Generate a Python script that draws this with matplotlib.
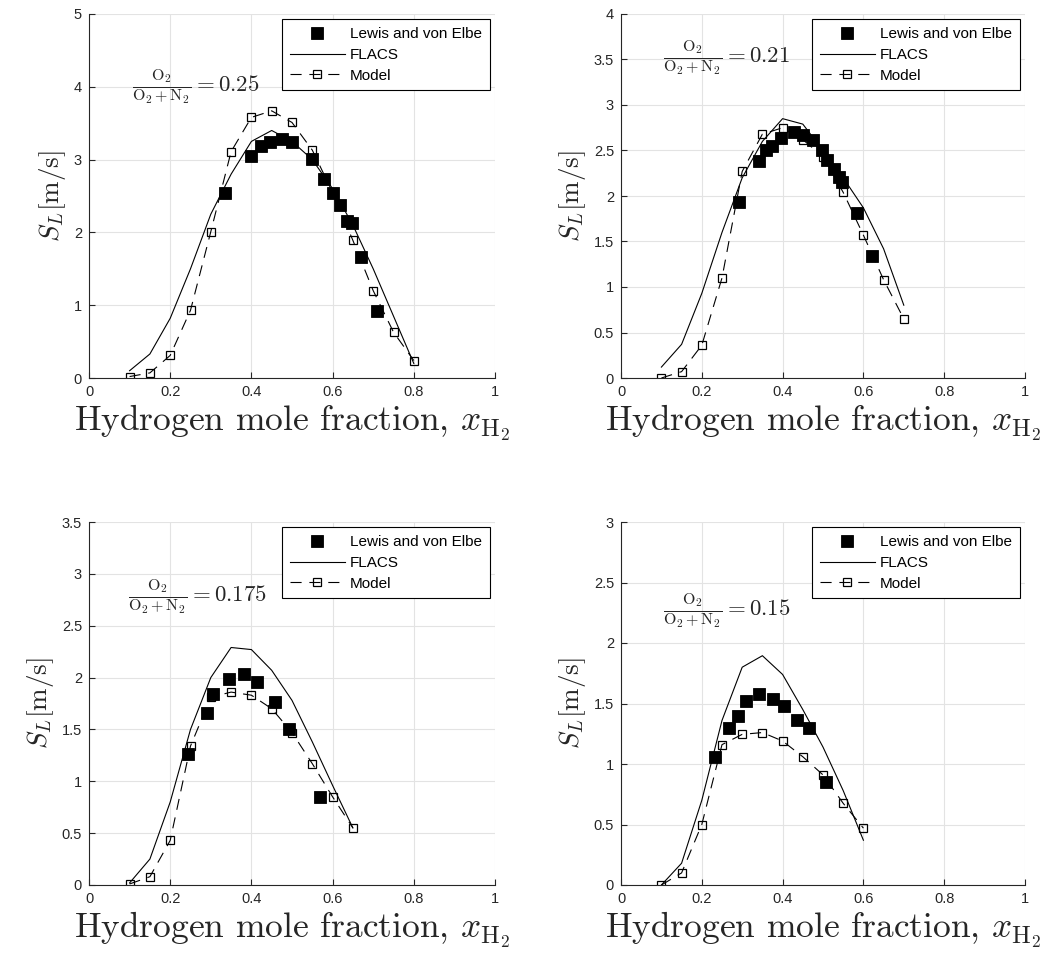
import matplotlib
matplotlib.use("Agg")
import matplotlib.pyplot as plt
import numpy as np

plt.rcParams['font.family'] = ['Liberation Sans', 'DejaVu Sans']
plt.rcParams['mathtext.fontset'] = 'cm'

# %%
# Data, one block per O2/(O2+N2) ratio

ratio_labels = ["0.25", "0.21", "0.175", "0.15"]
ylims = [5, 4, 3.5, 3]
ytick_steps = [1, 0.5, 0.5, 0.5]
label_pos = [(0.105, 4.0), (0.104, 3.52), (0.096, 2.78), (0.104, 2.27)]

# Lewis and von Elbe (experiment)
lewis_x_025 = [0.335, 0.398, 0.424, 0.446, 0.476, 0.499, 0.55, 0.58, 0.60, 0.618, 0.635, 0.647, 0.67, 0.709]
lewis_y_025 = [2.54, 3.05, 3.18, 3.24, 3.28, 3.24, 3.01, 2.74, 2.54, 2.38, 2.16, 2.13, 1.66, 0.92]
lewis_x_021 = [0.293, 0.342, 0.358, 0.373, 0.395, 0.427, 0.45, 0.476, 0.497, 0.509, 0.527, 0.54, 0.548, 0.585, 0.622]
lewis_y_021 = [1.93, 2.38, 2.51, 2.55, 2.64, 2.70, 2.67, 2.62, 2.51, 2.40, 2.30, 2.21, 2.15, 1.81, 1.34]
lewis_x_0175 = [0.243, 0.29, 0.306, 0.346, 0.382, 0.415, 0.458, 0.493, 0.569]
lewis_y_0175 = [1.26, 1.66, 1.84, 1.99, 2.03, 1.96, 1.76, 1.50, 0.85]
lewis_x_015 = [0.233, 0.268, 0.289, 0.309, 0.342, 0.377, 0.404, 0.435, 0.465, 0.507]
lewis_y_015 = [1.06, 1.30, 1.40, 1.52, 1.575, 1.54, 1.48, 1.36, 1.30, 0.855]

# FLACS
flacs_x_025 = [0.1, 0.15, 0.2, 0.25, 0.3, 0.35, 0.4, 0.45, 0.5, 0.55, 0.6, 0.65, 0.7, 0.75, 0.8]
flacs_y_025 = [0.1, 0.33, 0.82, 1.5, 2.25, 2.8, 3.25, 3.4, 3.25, 3.0, 2.6, 2.1, 1.5, 0.85, 0.2]
flacs_x_021 = [0.1, 0.15, 0.2, 0.25, 0.3, 0.35, 0.4, 0.45, 0.5, 0.55, 0.6, 0.65, 0.7]
flacs_y_021 = [0.12, 0.37, 0.93, 1.6, 2.2, 2.6, 2.85, 2.79, 2.5, 2.2, 1.87, 1.42, 0.8]
flacs_x_0175 = [0.1, 0.15, 0.2, 0.25, 0.3, 0.35, 0.4, 0.45, 0.5, 0.55, 0.6, 0.65]
flacs_y_0175 = [0.02, 0.25, 0.8, 1.5, 2.0, 2.29, 2.27, 2.07, 1.78, 1.38, 0.96, 0.55]
flacs_x_015 = [0.1, 0.15, 0.2, 0.25, 0.3, 0.35, 0.4, 0.45, 0.5, 0.55, 0.6]
flacs_y_015 = [0.0, 0.18, 0.7, 1.36, 1.80, 1.895, 1.74, 1.45, 1.14, 0.78, 0.37]

# Model
model_x_025 = [0.1, 0.15, 0.2, 0.25, 0.3, 0.35, 0.4, 0.45, 0.5, 0.55, 0.6, 0.65, 0.7, 0.75, 0.8]
model_y_025 = [0.02, 0.07, 0.31, 0.93, 2.01, 3.11, 3.58, 3.67, 3.51, 3.13, 2.55, 1.89, 1.2, 0.63, 0.24]
model_x_021 = [0.1, 0.15, 0.2, 0.25, 0.3, 0.35, 0.4, 0.45, 0.5, 0.55, 0.6, 0.65, 0.7]
model_y_021 = [0.0, 0.07, 0.36, 1.1, 2.27, 2.68, 2.75, 2.62, 2.43, 2.04, 1.57, 1.08, 0.65]
model_x_0175 = [0.1, 0.15, 0.2, 0.25, 0.3, 0.35, 0.4, 0.45, 0.5, 0.55, 0.6, 0.65]
model_y_0175 = [0.01, 0.08, 0.43, 1.34, 1.81, 1.86, 1.83, 1.70, 1.47, 1.17, 0.85, 0.55]
model_x_015 = [0.1, 0.15, 0.2, 0.25, 0.3, 0.35, 0.4, 0.45, 0.5, 0.55, 0.6]
model_y_015 = [0.0, 0.1, 0.5, 1.16, 1.245, 1.26, 1.19, 1.06, 0.91, 0.675, 0.47]

lewis = [(lewis_x_025, lewis_y_025), (lewis_x_021, lewis_y_021),
         (lewis_x_0175, lewis_y_0175), (lewis_x_015, lewis_y_015)]
flacs = [(flacs_x_025, flacs_y_025), (flacs_x_021, flacs_y_021),
         (flacs_x_0175, flacs_y_0175), (flacs_x_015, flacs_y_015)]
model = [(model_x_025, model_y_025), (model_x_021, model_y_021),
         (model_x_0175, model_y_0175), (model_x_015, model_y_015)]

# %%

txt_color = '#262626'

fig = plt.figure(figsize=(10.44, 9.58), dpi=100)
axes_rects = [
    [89 / 1044, 1 - 378 / 958, 406 / 1044, 364 / 958],
    [621 / 1044, 1 - 378 / 958, 404 / 1044, 364 / 958],
    [89 / 1044, 1 - 885 / 958, 406 / 1044, 363 / 958],
    [621 / 1044, 1 - 885 / 958, 404 / 1044, 363 / 958],
]


def plot_panel(ax, i):
    lx, ly = lewis[i]
    fx, fy = flacs[i]
    mx, my = model[i]
    ax.plot(lx, ly, 's', color='black', markersize=8, markeredgewidth=0.6,
            label='Lewis and von Elbe')
    ax.plot(fx, fy, '-', color='black', linewidth=0.8, label='FLACS')
    ax.plot(mx, my, 's--', color='black', linewidth=0.8, markersize=5.5,
            markerfacecolor='none', markeredgewidth=0.9, dashes=(10, 7), label='Model')

    ax.set_xlim(0, 1)
    ax.set_ylim(0, ylims[i])
    ax.set_xticks(np.arange(0, 1.01, 0.2))
    ax.set_xticklabels(['0', '0.2', '0.4', '0.6', '0.8', '1'])
    yt = np.arange(0, ylims[i] + 1e-9, ytick_steps[i])
    ax.set_yticks(yt)
    ax.set_yticklabels([f'{v:g}' for v in yt])

    ax.grid(True, color='#e3e3e3', linewidth=0.8)
    ax.set_axisbelow(True)
    for side in ['top', 'right']:
        ax.spines[side].set_visible(False)
    for side in ['left', 'bottom']:
        ax.spines[side].set_color(txt_color)
        ax.spines[side].set_linewidth(0.8)
    ax.tick_params(direction='in', length=4, width=0.8, colors=txt_color,
                   labelsize=10.5, pad=5)

    ax.set_xlabel(r'Hydrogen mole fraction, $x_{\mathrm{H}_2}$', family='cmr10',
                  fontsize=25.5, color=txt_color, labelpad=3)
    ax.set_ylabel(r'$S_L[\mathrm{m/s}]$', fontsize=19.5, color=txt_color, labelpad=4)

    tx, ty = label_pos[i]
    ax.text(tx, ty, r'$\frac{\mathrm{O}_2}{\mathrm{O}_2+\mathrm{N}_2} = %s$' % ratio_labels[i],
            fontsize=16.5, color=txt_color, ha='left', va='center')

    leg = ax.legend(loc='upper right', fontsize=11, numpoints=1, handlelength=3.6,
                    handletextpad=0.35, borderaxespad=0.35, fancybox=False,
                    framealpha=1, edgecolor='black', borderpad=0.5, labelspacing=0.45)
    leg.get_frame().set_linewidth(0.8)


for i, rect in enumerate(axes_rects):
    ax = fig.add_axes(rect)
    plot_panel(ax, i)

fig.savefig('out.png', dpi=100)
